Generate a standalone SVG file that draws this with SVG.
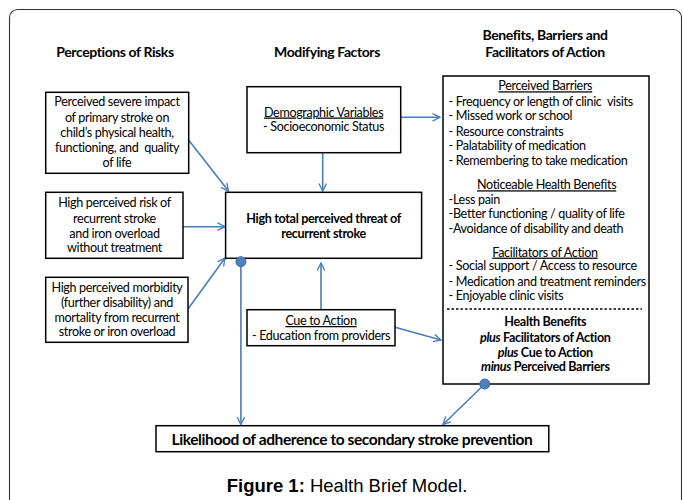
<svg xmlns="http://www.w3.org/2000/svg" width="683" height="500" viewBox="0 0 683 500">
<style>
text{font-family:Lato,"Open Sans","Liberation Sans",sans-serif;font-size:12.6px;letter-spacing:-0.35px;fill:#000}
.h{font-weight:bold;font-size:14px;letter-spacing:-0.4px}
.c{text-anchor:middle}
.b{font-weight:bold}
.box{fill:#fff;stroke:#000;stroke-width:1.5}
.con{stroke:#4A7EBB;stroke-width:1.6;fill:none}
.dot{fill:#4F81BD;stroke:#3A6AA6;stroke-width:1}
.u{text-decoration:underline}
</style>
<defs>
<marker id="ar" viewBox="0 0 12 12" refX="11" refY="6" markerWidth="9" markerHeight="9" markerUnits="userSpaceOnUse" orient="auto">
<path d="M1,1 L11,6 L1,11" fill="none" stroke="#4A7EBB" stroke-width="1.8"/>
</marker>
</defs>
<rect width="683" height="500" fill="#fff"/>
<rect x="9.5" y="9.5" width="672" height="520" rx="8" fill="none" stroke="#333" stroke-width="1.1"/>
<g id="headers">
<text class="h c" x="115" y="57">Perceptions of Risks</text>
<text class="h c" x="327" y="57">Modifying Factors</text>
<text class="h c" x="545" y="40">Benefits, Barriers and</text>
<text class="h c" x="545" y="57">Facilitators of Action</text>
</g>
<g id="connectors">
<line class="con" x1="401" y1="117.3" x2="440" y2="117.3" marker-end="url(#ar)"/>
<line class="con" x1="322.7" y1="153" x2="322.7" y2="191" marker-end="url(#ar)"/>
<line class="con" x1="188.6" y1="140" x2="228.5" y2="191" marker-end="url(#ar)"/>
<line class="con" x1="183" y1="226.7" x2="225" y2="226.7" marker-end="url(#ar)"/>
<line class="con" x1="188" y1="309" x2="225" y2="258" marker-end="url(#ar)"/>
<line class="con" x1="321" y1="309.7" x2="321" y2="263" marker-end="url(#ar)"/>
<line class="con" x1="395" y1="327.3" x2="441" y2="340" marker-end="url(#ar)"/>
<line class="con" x1="240.9" y1="262" x2="240.9" y2="424.5" marker-end="url(#ar)"/>
<line class="con" x1="484.8" y1="384" x2="443" y2="424.5" marker-end="url(#ar)"/>
</g>
<g id="n-impact">
<rect class="box" x="45.7" y="92.3" width="143" height="81"/>
<text class="c" x="117" y="106">Perceived severe impact</text>
<text class="c" x="117" y="121.5">of primary stroke on</text>
<text class="c" x="117" y="136.5">child’s physical health,</text>
<text class="c" x="117" y="152" xml:space="preserve">functioning, and  quality</text>
<text class="c" x="117" y="167">of life</text>
</g>
<g id="n-risk">
<rect class="box" x="45.7" y="192.3" width="137.3" height="66"/>
<text class="c" x="114.5" y="207">High perceived risk of</text>
<text class="c" x="114.5" y="222.5">recurrent stroke</text>
<text class="c" x="114.5" y="237.5">and iron overload</text>
<text class="c" x="114.5" y="252">without treatment</text>
</g>
<g id="n-morbidity">
<rect class="box" x="45.7" y="277.3" width="142.3" height="65"/>
<text class="c" x="117" y="291.5">High perceived morbidity</text>
<text class="c" x="117" y="307">(further disability) and</text>
<text class="c" x="117" y="321.5">mortality from recurrent</text>
<text class="c" x="117" y="336">stroke or iron overload</text>
</g>
<g id="n-demographic">
<rect class="box" x="247" y="86.7" width="153.7" height="66"/>
<text class="c u" x="323.6" y="116.5">Demographic Variables</text>
<text class="c" x="323.6" y="131">- Socioeconomic Status</text>
</g>
<g id="n-threat">
<rect class="box" x="225.6" y="192.3" width="196" height="66"/>
<text class="c b" x="323.6" y="222.5">High total perceived threat of</text>
<text class="c b" x="323.6" y="237.5">recurrent stroke</text>
</g>
<g id="n-cue">
<rect class="box" x="247" y="309.7" width="148" height="36"/>
<text class="c u" x="321" y="325">Cue to Action</text>
<text class="c" x="321" y="340">- Education from providers</text>
</g>
<g id="n-benefits">
<rect class="box" x="443" y="76" width="206" height="308"/>
<text class="c u" x="545.3" y="90.3">Perceived Barriers</text>
<text x="448.6" y="106" xml:space="preserve">- Frequency or length of clinic  visits</text>
<text x="448.6" y="120.3">- Missed work or school</text>
<text x="448.6" y="136.3">- Resource constraints</text>
<text x="448.6" y="150.3">- Palatability of medication</text>
<text x="448.6" y="165.3">- Remembering to take medication</text>
<text class="c u" x="546.6" y="189.3">Noticeable Health Benefits</text>
<text x="448.6" y="203.6">-Less pain</text>
<text x="448.6" y="218">-Better functioning / quality of life</text>
<text x="448.6" y="233.3">-Avoidance of disability and death</text>
<text class="c u" x="545" y="256.6">Facilitators of Action</text>
<text x="448.6" y="270.3">- Social support / Access to resource</text>
<text x="448.6" y="286.3">- Medication and treatment reminders</text>
<text x="448.6" y="300.3">- Enjoyable clinic visits</text>
<line x1="447" y1="309" x2="642" y2="309" stroke="#000" stroke-width="1.3" stroke-dasharray="2.5,2"/>
<text class="c b" x="545.3" y="326.3">Health Benefits</text>
<text class="c b" x="545.3" y="341.6"><tspan font-style="italic">plus</tspan> Facilitators of Action</text>
<text class="c b" x="545.3" y="356.6"><tspan font-style="italic">plus</tspan> Cue to Action</text>
<text class="c b" x="545.3" y="371.3"><tspan font-style="italic">minus</tspan> Perceived Barriers</text>
</g>
<g id="n-likelihood">
<rect class="box" x="156" y="425.7" width="392.8" height="26"/>
<text class="c b" x="352" y="444.8" style="font-size:15.5px;letter-spacing:-0.4px">Likelihood of adherence to secondary stroke prevention</text>
</g>
<g id="dots">
<circle class="dot" cx="240.9" cy="261.7" r="5"/>
<circle class="dot" cx="484.8" cy="384" r="5"/>
</g>
<text x="347" y="491.5" text-anchor="middle" style="font-family:'Liberation Sans',Arial,sans-serif;font-size:18.5px;letter-spacing:0"><tspan font-weight="bold">Figure 1:</tspan> Health Brief Model.</text>
</svg>
